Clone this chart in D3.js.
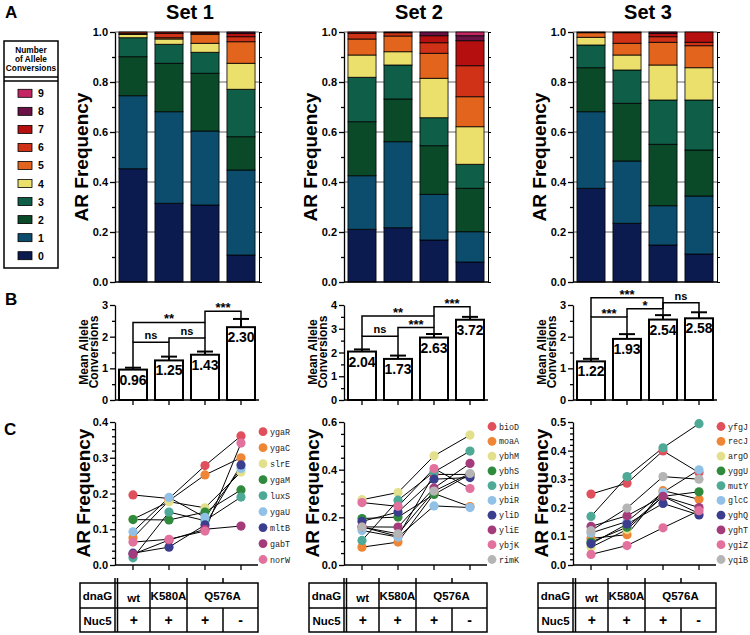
<!DOCTYPE html>
<html><head><meta charset="utf-8">
<script src="https://cdn.jsdelivr.net/npm/d3@7"></script>
<style>body{margin:0;background:#fff} svg{display:block}</style>
</head><body><svg id="c" width="750" height="635"></svg>
<script>
// ---------------- DATA ----------------
const setNames = ["Set 1", "Set 2", "Set 3"];
const groups = ["wt", "K580A", "Q576A+", "Q576A-"];
const levels = [0, 1, 2, 3, 4, 5, 6, 7, 8, 9];
const levelColors = ["#0b1a4f", "#0c4d6e", "#0b4a28", "#0f5e47", "#ece06c",
                     "#e2641d", "#cf3217", "#b5100f", "#6a1246", "#c42663"];
const legendTitle = ["Number", "of Allele", "Conversions"];

// Panel A: AR frequency per number of allele conversions (levels 0..9) per group
const freqSet1 = [
  [0.453, 0.292, 0.156, 0.076, 0.013, 0.005, 0.005, 0, 0, 0],
  [0.315, 0.366, 0.194, 0.076, 0.021, 0.005, 0.018, 0.005, 0, 0],
  [0.308, 0.296, 0.231, 0.084, 0.036, 0.036, 0.005, 0.004, 0, 0],
  [0.108, 0.340, 0.133, 0.190, 0.104, 0.086, 0.020, 0.014, 0.005, 0]
];
const freqSet2 = [
  [0.211, 0.214, 0.216, 0.178, 0.089, 0.064, 0.023, 0.005, 0, 0],
  [0.217, 0.344, 0.171, 0.136, 0.053, 0.063, 0.013, 0.003, 0, 0],
  [0.168, 0.183, 0.194, 0.112, 0.158, 0.100, 0.042, 0.028, 0.015, 0],
  [0.080, 0.121, 0.174, 0.096, 0.150, 0.120, 0.124, 0.100, 0.020, 0.015]
];
const freqSet3 = [
  [0.375, 0.306, 0.176, 0.091, 0.031, 0.018, 0.003, 0, 0, 0],
  [0.235, 0.249, 0.231, 0.133, 0.060, 0.047, 0.042, 0.003, 0, 0],
  [0.148, 0.157, 0.246, 0.177, 0.140, 0.091, 0.022, 0.014, 0.005, 0],
  [0.112, 0.232, 0.184, 0.200, 0.129, 0.088, 0.014, 0.041, 0, 0]
];
const aTicks = [0, 0.2, 0.4, 0.6, 0.8, 1.0];

// Panel B: mean allele conversions
const meanSet1 = [0.96, 1.25, 1.43, 2.30];
const semSet1 = [0.06, 0.12, 0.10, 0.26];
const meanLabelSet1 = ["0.96", "1.25", "1.43", "2.30"];
const meanSet2 = [2.04, 1.73, 2.63, 3.38];
const semSet2 = [0.09, 0.14, 0.15, 0.12];
const meanLabelSet2 = ["2.04", "1.73", "2.63", "3.72"];
const meanSet3 = [1.22, 1.93, 2.54, 2.58];
const semSet3 = [0.08, 0.15, 0.14, 0.19];
const meanLabelSet3 = ["1.22", "1.93", "2.54", "2.58"];
const bMax = [3, 4, 3];
// significance brackets: [barA, barB, level, label, dropA, dropB] (null = top of error bar)
const sigSet1 = [[0, 1, 1.82, "ns", null, null], [1, 2, 1.96, "ns", 1.82, null],
                 [0, 2, 2.45, "**", 1.82, 1.96], [2, 3, 2.80, "***", 2.45, null]];
const sigSet2 = [[0, 1, 2.68, "ns", null, null], [1, 2, 3.05, "***", 2.68, null],
                 [0, 2, 3.54, "**", 2.68, 3.05], [2, 3, 3.93, "***", 3.54, null]];
const sigSet3 = [[0, 1, 2.62, "***", null, null], [1, 2, 2.88, "*", 2.62, null],
                 [0, 2, 3.23, "***", 2.62, 2.88], [2, 3, 3.07, "ns", 2.88, null]];

// Panel C: AR frequency per gene
const geneColors = ["#e0505c", "#ef8636", "#e2e08c", "#2f8a3e", "#4ea997",
                    "#92c1e7", "#3b3d8f", "#a43c7c", "#e2719e", "#b5b5b5"];
const genesSet1 = ["ygaR", "ygaC", "slrE", "ygaM", "luxS", "ygaU", "mltB", "gabT", "norW"];
const arSet1 = [
  [0.196, 0.186, 0.278, 0.361],
  [0.076, 0.180, 0.252, 0.300],
  [0.128, 0.177, 0.160, 0.260],
  [0.127, 0.126, 0.148, 0.210],
  [0.020, 0.148, 0.124, 0.190],
  [0.093, 0.189, 0.133, 0.270],
  [0.033, 0.050, 0.112, 0.280],
  [0.030, 0.070, 0.100, 0.109],
  [0.064, 0.072, 0.095, 0.341]
];
const genesSet2 = ["bioD", "moaA", "ybhM", "ybhS", "ybiH", "ybiR", "yliD", "yliE", "ybjK", "rimK"];
const arSet2 = [
  [0.160, 0.120, 0.380, 0.380],
  [0.075, 0.096, 0.300, 0.245],
  [0.274, 0.304, 0.458, 0.545],
  [0.195, 0.201, 0.296, 0.380],
  [0.103, 0.272, 0.390, 0.478],
  [0.145, 0.117, 0.248, 0.241],
  [0.183, 0.222, 0.360, 0.367],
  [0.160, 0.159, 0.323, 0.426],
  [0.262, 0.246, 0.405, 0.321],
  [0.159, 0.131, 0.310, 0.384]
];
const genesSet3 = ["yfgJ", "recJ", "argO", "yggU", "mutY", "glcC", "yghQ", "yghT", "ygiZ", "yqiB"];
const arSet3 = [
  [0.248, 0.286, 0.399, 0.323],
  [0.093, 0.106, 0.260, 0.230],
  [0.062, 0.124, 0.240, 0.180],
  [0.080, 0.132, 0.240, 0.256],
  [0.170, 0.309, 0.410, 0.494],
  [0.112, 0.152, 0.254, 0.333],
  [0.074, 0.143, 0.215, 0.175],
  [0.135, 0.172, 0.240, 0.201],
  [0.037, 0.068, 0.130, 0.190],
  [0.120, 0.199, 0.309, 0.300]
];
const cMajor = [[0, 0.1, 0.2, 0.3, 0.4], [0, 0.2, 0.4, 0.6], [0, 0.1, 0.2, 0.3, 0.4, 0.5]];
const cMinorStep = [0.02, 0.05, 0.02];

// table
const tableRow1 = ["dnaG", "wt", "K580A", "Q576A"];
const tableRow2 = ["Nuc5", "+", "+", "+", "-"];

// ---------------- DRAW ----------------
const F = '"Liberation Sans", Arial, Helvetica, sans-serif';
const svg = d3.select("#c");
const axisXs = [115, 344, 573];
const freqs = [freqSet1, freqSet2, freqSet3];
const means = [meanSet1, meanSet2, meanSet3];
const sems = [semSet1, semSet2, semSet3];
const meanLabels = [meanLabelSet1, meanLabelSet2, meanLabelSet3];
const sigs = [sigSet1, sigSet2, sigSet3];
const geneSets = [genesSet1, genesSet2, genesSet3];
const arSets = [arSet1, arSet2, arSet3];

function band(i) {
  return d3.scaleBand().domain(groups).range([axisXs[i], axisXs[i] + 144])
    .paddingInner(0.22).paddingOuter(0.11);
}
function styleAxis(g, fs) {
  g.attr("font-family", F).attr("font-weight", "bold").attr("font-size", fs || 11);
  g.selectAll("path,line").attr("stroke", "#000").attr("stroke-width", 1.3);
  g.selectAll("text").attr("fill", "#000");
  return g;
}
function label(x, y, t, fs, opts) {
  opts = opts || {};
  const el = svg.append("text").attr("x", x).attr("y", y).text(t)
    .attr("font-family", opts.mono ? '"Liberation Mono", "Courier New", monospace' : F)
    .attr("font-weight", opts.normal ? "normal" : "bold").attr("font-size", fs)
    .attr("text-anchor", opts.anchor || "middle").attr("fill", opts.fill || "#000");
  if (opts.rotate) el.attr("transform", `rotate(-90,${x},${y})`);
  return el;
}

// panel letters
label(5, 18, "A", 17, { anchor: "start" });
label(5, 305, "B", 17, { anchor: "start" });
label(4, 435, "C", 17, { anchor: "start" });

// legend of panel A
svg.append("rect").attr("x", 4).attr("y", 41).attr("width", 54).attr("height", 227)
  .attr("fill", "none").attr("stroke", "#000").attr("stroke-width", 1.5);
[77, 81].forEach(yy => svg.append("line").attr("x1", 4).attr("x2", 58).attr("y1", yy).attr("y2", yy)
  .attr("stroke", "#000").attr("stroke-width", 1.3));
legendTitle.forEach((t, k) => label(31, 53 + k * 9, t, 8.3));
const legY = d3.scalePoint().domain(levels.slice().reverse()).range([93.3, 255.7]);
levels.forEach(l => {
  svg.append("rect").attr("x", 18).attr("y", legY(l) - 4).attr("width", 14).attr("height", 8)
    .attr("fill", levelColors[l]).attr("stroke", "#000").attr("stroke-width", 0.8);
  label(38, legY(l) + 4, String(l), 10.5, { anchor: "start" });
});

// ---------- Panel A ----------
const yA = d3.scaleLinear([0, 1], [282, 32]);
freqs.forEach((freq, i) => {
  const ax = axisXs[i], x = band(i);
  const g = svg.append("g");
  label(ax + 75, 19, setNames[i], 20);
  label(ax - 27, 157, "AR Frequency", 19, { rotate: true });
  g.selectAll("line.grid").data(aTicks.slice(1)).join("line")
    .attr("x1", ax).attr("x2", ax + 144).attr("y1", d => yA(d)).attr("y2", d => yA(d))
    .attr("stroke", "#666").attr("stroke-width", 1);
  const rows = groups.map((gn, j) => {
    const o = { group: gn };
    levels.forEach((l, k) => o[l] = freq[j][k]);
    return o;
  });
  const stacked = d3.stack().keys(levels)(rows);
  stacked.forEach(s => {
    g.selectAll(null).data(s.filter(d => d[1] - d[0] > 0)).join("rect")
      .attr("x", d => x(d.data.group)).attr("width", x.bandwidth())
      .attr("y", d => yA(d[1])).attr("height", d => yA(d[0]) - yA(d[1]))
      .attr("fill", levelColors[s.key]).attr("stroke", "#000").attr("stroke-width", 0.8);
  });
  styleAxis(svg.append("g").attr("transform", `translate(${ax},0)`)
    .call(d3.axisLeft(yA).tickValues(aTicks).tickFormat(d3.format(".1f")).tickSize(5).tickSizeOuter(0).tickPadding(2)));
  styleAxis(svg.append("g").attr("transform", `translate(${ax},0)`)
    .call(d3.axisLeft(yA).tickValues([0.1, 0.3, 0.5, 0.7, 0.9]).tickFormat("").tickSize(3).tickSizeOuter(0)))
    .select(".domain").remove();
  styleAxis(svg.append("g").attr("transform", `translate(${ax + 144},0)`)
    .call(d3.axisRight(yA).tickValues(d3.range(0, 1.01, 0.1)).tickFormat("").tickSize(3).tickSizeOuter(0)))
    .selectAll("path,line").attr("stroke-width", 1);
  svg.append("line").attr("x1", ax).attr("x2", ax + 144).attr("y1", yA(0)).attr("y2", yA(0))
    .attr("stroke", "#000").attr("stroke-width", 1.3);
});

// ---------- Panel B ----------
means.forEach((m, i) => {
  const ax = axisXs[i], x = band(i);
  const y = d3.scaleLinear([0, bMax[i]], [400, 305]);
  const cx = k => x(groups[k]) + x.bandwidth() / 2;
  const errTop = k => m[k] + sems[i][k];
  const lab = svg.append("text").attr("transform", `translate(${ax - 17},352) rotate(-90)`)
    .attr("font-family", F).attr("font-weight", "bold").attr("font-size", 12).attr("text-anchor", "middle");
  lab.append("tspan").attr("x", 0).attr("y", -10).text("Mean Allele");
  lab.append("tspan").attr("x", 0).attr("y", 0).text("Conversions");
  const g = svg.append("g");
  g.selectAll("rect").data(m).join("rect")
    .attr("x", (d, k) => cx(k) - 14).attr("width", 28)
    .attr("y", d => y(d)).attr("height", d => y(0) - y(d))
    .attr("fill", "#fff").attr("stroke", "#000").attr("stroke-width", 2);
  g.selectAll("line.err").data(m).join("line")
    .attr("x1", (d, k) => cx(k)).attr("x2", (d, k) => cx(k))
    .attr("y1", d => y(d)).attr("y2", (d, k) => y(errTop(k)))
    .attr("stroke", "#000").attr("stroke-width", 2);
  g.selectAll("line.cap").data(m).join("line")
    .attr("x1", (d, k) => cx(k) - 8).attr("x2", (d, k) => cx(k) + 8)
    .attr("y1", (d, k) => y(errTop(k))).attr("y2", (d, k) => y(errTop(k)))
    .attr("stroke", "#000").attr("stroke-width", 2);
  g.selectAll("text.val").data(m).join("text")
    .attr("x", (d, k) => cx(k)).attr("y", d => y(d) + 15)
    .attr("text-anchor", "middle").attr("font-family", F).attr("font-weight", "bold").attr("font-size", 14)
    .text((d, k) => meanLabels[i][k]);
  sigs[i].forEach(([a, b, lvl, t, da, db]) => {
    const ya = da == null ? errTop(a) : da, yb = db == null ? errTop(b) : db;
    g.append("path").attr("d", `M${cx(a)},${y(ya)}V${y(lvl)}H${cx(b)}V${y(yb)}`)
      .attr("fill", "none").attr("stroke", "#000").attr("stroke-width", 1.5);
    const tx = (cx(a) + cx(b)) / 2;
    if (t === "ns") label(tx, y(lvl) - 3, t, 11);
    else label(tx, y(lvl) + 1, t, 13);
  });
  const ticksMaj = d3.range(0, bMax[i] + 1);
  styleAxis(svg.append("g").attr("transform", `translate(${ax},0)`)
    .call(d3.axisLeft(y).tickValues(ticksMaj).tickFormat(d3.format("d")).tickSize(5).tickSizeOuter(0).tickPadding(2)));
  styleAxis(svg.append("g").attr("transform", `translate(${ax},0)`)
    .call(d3.axisLeft(y).tickValues(d3.range(0.5, bMax[i], 1)).tickFormat("").tickSize(3).tickSizeOuter(0)))
    .select(".domain").remove();
  svg.append("line").attr("x1", ax).attr("x2", ax + 144).attr("y1", 400).attr("y2", 400)
    .attr("stroke", "#000").attr("stroke-width", 1.3);
  g.selectAll("line.xt").data(groups).join("line")
    .attr("x1", (d, k) => cx(k)).attr("x2", (d, k) => cx(k)).attr("y1", 400).attr("y2", 405)
    .attr("stroke", "#000").attr("stroke-width", 1.3);
});

// ---------- Panel C ----------
arSets.forEach((vals, i) => {
  const ax = axisXs[i], x = band(i);
  const maj = cMajor[i], top = maj[maj.length - 1];
  const y = d3.scaleLinear([0, top], [565, 422]);
  const cx = k => x(groups[k]) + x.bandwidth() / 2;
  label(ax - 25, 493, "AR Frequency", 19, { rotate: true });
  const g = svg.append("g");
  const line = d3.line().x((d, k) => cx(k)).y(d => y(d));
  g.selectAll("path.gl").data(vals).join("path")
    .attr("d", d => line(d)).attr("fill", "none").attr("stroke", "#000").attr("stroke-width", 1);
  vals.forEach((row, gi) => {
    g.selectAll(null).data(row).join("circle")
      .attr("cx", (d, k) => cx(k)).attr("cy", d => y(d)).attr("r", 4.6)
      .attr("fill", geneColors[gi]);
  });
  styleAxis(svg.append("g").attr("transform", `translate(${ax},0)`)
    .call(d3.axisLeft(y).tickValues(maj).tickFormat(d3.format(".1f")).tickSize(5).tickSizeOuter(0).tickPadding(2)));
  const minors = d3.range(0, top + 1e-9, cMinorStep[i]).filter(v => !maj.some(m => Math.abs(m - v) < 1e-6));
  styleAxis(svg.append("g").attr("transform", `translate(${ax},0)`)
    .call(d3.axisLeft(y).tickValues(minors).tickFormat("").tickSize(3).tickSizeOuter(0)))
    .select(".domain").remove();
  svg.append("line").attr("x1", ax).attr("x2", ax + 143).attr("y1", 565).attr("y2", 565)
    .attr("stroke", "#000").attr("stroke-width", 1.3);
  g.selectAll("line.xt").data(groups).join("line")
    .attr("x1", (d, k) => cx(k)).attr("x2", (d, k) => cx(k)).attr("y1", 565).attr("y2", 570)
    .attr("stroke", "#000").attr("stroke-width", 1.3);
  // legend
  const genes = geneSets[i];
  const ly = d3.scalePoint().domain(genes).range([genes.length === 9 ? 431.7 : 426.5, 559.5]);
  genes.forEach((gn, gi) => {
    svg.append("circle").attr("cx", ax + 148).attr("cy", ly(gn)).attr("r", 4.4).attr("fill", geneColors[gi]);
    label(ax + 155, ly(gn) + 3, gn, 8.4, { anchor: "start", mono: true, normal: true, fill: "#222" });
  });
  // table
  const x0 = ax - 35;
  const tg = svg.append("g").attr("stroke", "#000").attr("stroke-width", 1.5).attr("fill", "none");
  tg.append("rect").attr("x", x0).attr("y", 583).attr("width", 178).attr("height", 49);
  tg.append("line").attr("x1", x0).attr("x2", x0 + 178).attr("y1", 608).attr("y2", 608);
  [35, 37.5, 70, 107].forEach(c => tg.append("line").attr("x1", x0 + c).attr("x2", x0 + c).attr("y1", 578).attr("y2", 632));
  tg.append("line").attr("x1", x0 + 143).attr("x2", x0 + 143).attr("y1", 608).attr("y2", 632);
  tg.append("line").attr("x1", x0 + 143).attr("x2", x0 + 143).attr("y1", 578).attr("y2", 583);
  const r1x = [17.5, 53.75, 88.5, 142.5];
  tableRow1.forEach((t, k) => label(x0 + r1x[k], k === 1 ? 602 : 600, t, 11.5));
  const r2x = [17.5, 53.75, 88.5, 125, 160.5];
  tableRow2.forEach((t, k) => label(x0 + r2x[k], 625, t, k === 0 ? 11.5 : 14));
});
</script>
</body></html>
